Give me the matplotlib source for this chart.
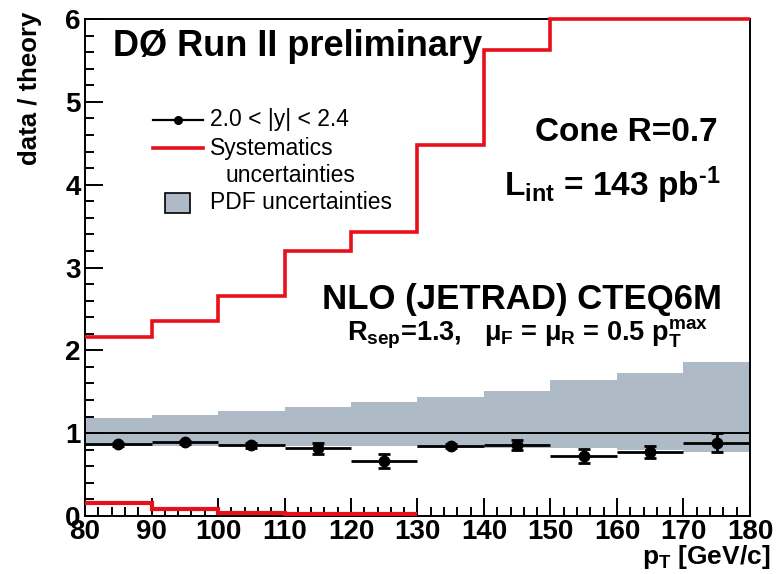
import numpy as np
import matplotlib
matplotlib.use("Agg")
import matplotlib.pyplot as plt
from matplotlib.ticker import MultipleLocator

plt.rcParams['font.family'] = ['Liberation Sans', 'DejaVu Sans']
plt.rcParams['mathtext.fontset'] = 'custom'
plt.rcParams['mathtext.rm'] = 'Liberation Sans:bold'
plt.rcParams['mathtext.bf'] = 'Liberation Sans:bold'
plt.rcParams['mathtext.it'] = 'Liberation Sans:bold'

# bin edges in pT [GeV/c]
edges = [80, 90, 100, 110, 120, 130, 140, 150, 160, 170, 180]
pt = [85, 95, 105, 115, 125, 135, 145, 155, 165, 175]

# data / theory with statistical errors
ratio = [0.867, 0.89, 0.855, 0.82, 0.665, 0.84, 0.86, 0.72, 0.775, 0.886]
ratio_err = [0.02, 0.02, 0.03, 0.067, 0.086, 0.025, 0.063, 0.086, 0.076, 0.118]

# systematic uncertainty band (red)
sys_up = [2.16, 2.36, 2.66, 3.20, 3.43, 4.48, 5.63, 6.0, 6.0, 6.0]
sys_lo = [0.16, 0.085, 0.035, 0.02, 0.02]

# PDF uncertainty band (grey)
pdf_up = [1.18, 1.22, 1.27, 1.31, 1.38, 1.44, 1.51, 1.64, 1.73, 1.86]
pdf_lo = [0.84, 0.84, 0.84, 0.84, 0.84, 0.82, 0.82, 0.82, 0.80, 0.77]

fig = plt.figure(figsize=(7.76, 5.74), dpi=100)
ax = fig.add_axes([85/776, 58/574, 665/776, 497/574])

pdf_col = '#aebbc6'
red = '#e8101a'

# PDF band
ax.stairs(pdf_up, edges, baseline=pdf_lo, fill=True, color=pdf_col, lw=0, zorder=1)

# theory = 1 line
ax.axhline(1.0, color='black', lw=1.4, zorder=2)

# systematics
ax.stairs(sys_up, edges, baseline=None, color=red, lw=2.6, zorder=4, clip_on=False)
ax.stairs(sys_lo, edges[:len(sys_lo) + 1], baseline=None, color=red, lw=3.0, zorder=4)

# data: horizontal bin bars without caps, vertical errors with caps
ax.errorbar(pt, ratio, xerr=5, fmt='none', ecolor='black', elinewidth=2.0, capsize=0, zorder=5)
ax.errorbar(pt, ratio, yerr=ratio_err, fmt='o', color='black', ms=7.5,
            elinewidth=2.0, capsize=4, capthick=2.0, zorder=5)

ax.set_xlim(80, 180)
ax.set_ylim(0, 6)
ax.xaxis.set_major_locator(MultipleLocator(10))
ax.xaxis.set_minor_locator(MultipleLocator(2))
ax.yaxis.set_major_locator(MultipleLocator(1))
ax.yaxis.set_minor_locator(MultipleLocator(0.2))
ax.tick_params(which='both', direction='in', width=1.4, top=False, right=False)
ax.tick_params(which='major', length=13, labelsize=20)
ax.tick_params(which='minor', length=6.5)
ax.tick_params(axis='x', which='major', pad=2)
ax.tick_params(axis='y', which='major', pad=3)
for lab in ax.get_xticklabels() + ax.get_yticklabels():
    lab.set_fontweight('bold')
for sp in ax.spines.values():
    sp.set_linewidth(1.4)

fig.text(30/776, 1 - 12/574, 'data / theory', rotation=90, ha='center', va='top',
         fontsize=18.5, fontweight='bold')
fig.text(770/776, 1 - 557/574, r'p$_{\rm T}$ [GeV/c]', ha='right', va='center',
         fontsize=19, fontweight='bold')

# annotations
ax.text(0.042, 0.944, 'DØ Run II preliminary', transform=ax.transAxes,
        fontsize=26, fontweight='bold', va='center', ha='left')
ax.text(0.952, 0.771, 'Cone R=0.7', transform=ax.transAxes,
        fontsize=24, fontweight='bold', va='center', ha='right')
ax.text(0.955, 0.666, r'L$_{\rm int}$ = 143 pb$^{\text{-1}}$', transform=ax.transAxes,
        fontsize=24, fontweight='bold', va='center', ha='right')
ax.text(0.958, 0.435, 'NLO (JETRAD) CTEQ6M', transform=ax.transAxes,
        fontsize=25, fontweight='bold', va='center', ha='right')
ax.text(0.937, 0.366, r'R$_{\rm sep}$=1.3,   μ$_{\rm F}$ = μ$_{\rm R}$ = 0.5 p$_{\rm T}^{\rm max}$',
        transform=ax.transAxes, fontsize=19.5, fontweight='bold', va='center', ha='right')

# legend drawn by hand
ax.plot([0.102, 0.177], [0.797, 0.797], color='black', lw=1.6, transform=ax.transAxes, zorder=6)
ax.plot([0.1395], [0.797], 'o', color='black', ms=5.5, transform=ax.transAxes, zorder=6)
ax.text(0.188, 0.797, '2.0 < |y| < 2.4', transform=ax.transAxes, fontsize=16.5, va='center')
ax.plot([0.102, 0.177], [0.740, 0.740], color=red, lw=2.6, transform=ax.transAxes, zorder=6)
ax.text(0.188, 0.740, 'Systematics', transform=ax.transAxes, fontsize=16.5, va='center')
ax.text(0.211, 0.686, 'uncertainties', transform=ax.transAxes, fontsize=16.5, va='center')
ax.add_patch(plt.Rectangle((0.12, 0.61), 0.038, 0.04, transform=ax.transAxes,
                           facecolor=pdf_col, edgecolor='black', lw=1.2, zorder=6))
ax.text(0.188, 0.630, 'PDF uncertainties', transform=ax.transAxes, fontsize=16.5, va='center')

fig.savefig('out.png', dpi=100)
